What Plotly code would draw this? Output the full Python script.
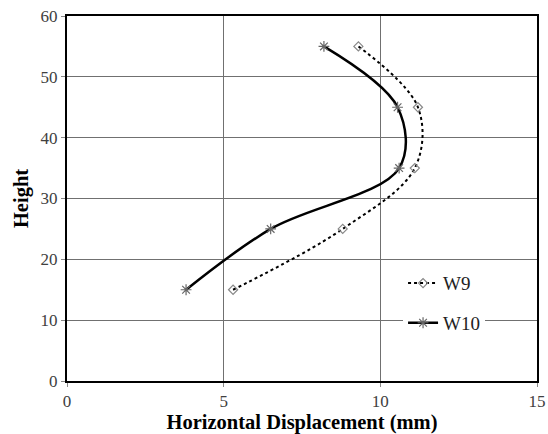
import plotly.graph_objects as go

heights = [15, 25, 35, 45, 55]
w9 = [5.3, 8.8, 11.1, 11.2, 9.3]
w10 = [3.8, 6.5, 10.6, 10.55, 8.2]
x_ticks = [0, 5, 10, 15]
y_ticks = [0, 10, 20, 30, 40, 50, 60]

font_family = "Liberation Serif, Times New Roman, serif"

fig = go.Figure()
fig.add_trace(go.Scatter(
    x=w9, y=heights, name="W9", mode="lines+markers",
    line=dict(color="black", width=2, dash="dot", shape="spline", smoothing=1.0),
    marker=dict(symbol="diamond-open", size=7, color="#888888", line=dict(width=1.2)),
    legendgroup="a",
))
fig.add_trace(go.Scatter(
    x=w10, y=heights, name="W10", mode="lines+markers",
    line=dict(color="black", width=2.5, shape="spline", smoothing=1.0),
    marker=dict(symbol="asterisk-open", size=9, color="#666666", line=dict(width=1.2, color="#666666")),
    legendgroup="b",
))

axis_common = dict(
    showgrid=True, gridcolor="#707070", gridwidth=1,
    showline=True, linecolor="black", linewidth=2, mirror=True,
    ticks="outside", ticklen=4, tickcolor="#888888",
    tickfont=dict(family=font_family, size=17, color="#404040"),
    zeroline=False, automargin=False, ticklabeloverflow="allow",
)

fig.update_xaxes(range=[0, 15], tickvals=x_ticks,
                 title=dict(text="<b>Horizontal Displacement (mm)</b>",
                            font=dict(family=font_family, size=20.5, color="black"), standoff=5),
                 **axis_common)
fig.update_yaxes(range=[0, 60], tickvals=y_ticks,
                 title=dict(text="<b>Height</b>",
                            font=dict(family=font_family, size=20.5, color="black"), standoff=6),
                 **axis_common)

fig.update_layout(
    width=548, height=434,
    margin=dict(l=67, r=11, t=16, b=53),
    plot_bgcolor="white", paper_bgcolor="white",
    font=dict(family=font_family),
    legend=dict(x=0.715, y=0.32, xanchor="left", yanchor="top",
                bgcolor="white", borderwidth=0,
                font=dict(family=font_family, size=19, color="#222222"),
                tracegroupgap=12, itemwidth=30),
)

fig.write_html("out.html", post_script="document.body.style.margin='0';",
               config={"displayModeBar": False})
